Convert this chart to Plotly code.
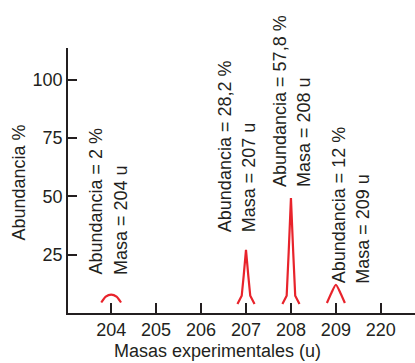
import plotly.graph_objects as go

# ---- data ----
tick_masses = ["204", "205", "206", "207", "208", "209", "220"]
peak_masses = ["204", "207", "208", "209"]
peak_heights = [7.9, 27.1, 49.3, 12.1]
abundance_text = ["Abundancia = 2 %", "Abundancia = 28,2 %", "Abundancia = 57,8 %", "Abundancia = 12 %"]
mass_text = ["Masa = 204 u", "Masa = 207 u", "Masa = 208 u", "Masa = 209 u"]
y_ticks = [25, 50, 75, 100]

# ---- style / layout ----
RED = "#e8232b"
INK = "#231f20"
FONT = "Liberation Sans, Arial, Helvetica, sans-serif"
FS = 18
# label placement: (x offset from peak, bottom y) in data units
label_offsets = [-0.33, -0.48, -0.26, 0.07]
label_bottoms = [16.0, 34.4, 53.7, 12.1]
col_gap = 0.535
peak_style = ["arch", "spike", "spike", "lambda"]

fig = go.Figure()

for m, h, st in zip(peak_masses, peak_heights, peak_style):
    p = tick_masses.index(m)
    if st == "arch":
        dx = [-0.22, -0.12, 0, 0.12, 0.22]
        dy = [4.5, h - 0.9, h, h - 0.9, 4.5]
        shape = "spline"
    elif st == "spike":
        dx = [-0.19, -0.095, -0.05, 0, 0.05, 0.095, 0.19]
        dy = [3.9, 7.4, 7.4 + (h - 7.4) * 0.45, h, 7.4 + (h - 7.4) * 0.45, 7.4, 3.9]
        shape = "linear"
    else:
        dx = [-0.2, -0.1, 0, 0.1, 0.2]
        dy = [4.3, 4.3 + (h - 4.3) * 0.55, h, 4.3 + (h - 4.3) * 0.55, 4.3]
        shape = "spline"
    fig.add_trace(go.Scatter(
        x=[p + d for d in dx], y=dy, mode="lines",
        line=dict(color=RED, width=2.2, shape=shape, smoothing=0.6),
        hoverinfo="skip", showlegend=False))

annotations = []
for m, a, t, off, b in zip(peak_masses, abundance_text, mass_text, label_offsets, label_bottoms):
    p = tick_masses.index(m)
    for k, txt in enumerate([a, t]):
        annotations.append(dict(
            x=p + off + k * col_gap, y=b, xref="x", yref="y",
            text=txt, textangle=-90, showarrow=False,
            xanchor="center", yanchor="bottom", borderpad=0,
            font=dict(family=FONT, size=FS, color=INK)))

annotations.append(dict(
    x=217.3, y=351, text="Masas experimentales (u)",
    showarrow=False, xanchor="center", yanchor="middle", font=dict(family=FONT, size=FS, color=INK)))
annotations.append(dict(
    x=18, y=183, text="Abundancia %", textangle=-90,
    showarrow=False, xanchor="center", yanchor="middle", font=dict(family=FONT, size=FS, color=INK)))

W, H = 415, 363
L, R, T, B = 67.5, 0, 48, 50
# convert pixel-placed annotations (title texts) to paper coords
for ann in annotations[-2:]:
    ann["xref"] = "paper"; ann["yref"] = "paper"
    ann["x"] = (ann["x"] - L) / (W - L - R)
    ann["y"] = (H - B - ann["y"]) / (H - T - B)

fig.update_layout(
    width=W, height=H,
    margin=dict(l=L, r=R, t=T, b=B, pad=0),
    paper_bgcolor="white", plot_bgcolor="white",
    font=dict(family=FONT, size=FS, color=INK),
    annotations=annotations,
    xaxis=dict(
        range=[-0.96, 6.76], tickmode="array",
        tickvals=list(range(len(tick_masses))), ticktext=tick_masses,
        ticks="inside", ticklen=10, tickwidth=1.5, tickcolor=INK,
        showline=True, linecolor=INK, linewidth=1.5,
        showgrid=False, zeroline=False, fixedrange=True,
        tickfont=dict(family=FONT, size=FS, color=INK)),
    yaxis=dict(
        range=[0, 113.6], tickmode="array", tickvals=y_ticks,
        ticks="inside", ticklen=9, tickwidth=1.5, tickcolor=INK,
        showline=True, linecolor=INK, linewidth=1.5,
        showgrid=False, zeroline=False, fixedrange=True,
        tickfont=dict(family=FONT, size=FS, color=INK)),
)

fig.write_html("out.html", config={"displayModeBar": False},
               post_script="document.body.style.margin='0';document.body.style.overflow='hidden';")
